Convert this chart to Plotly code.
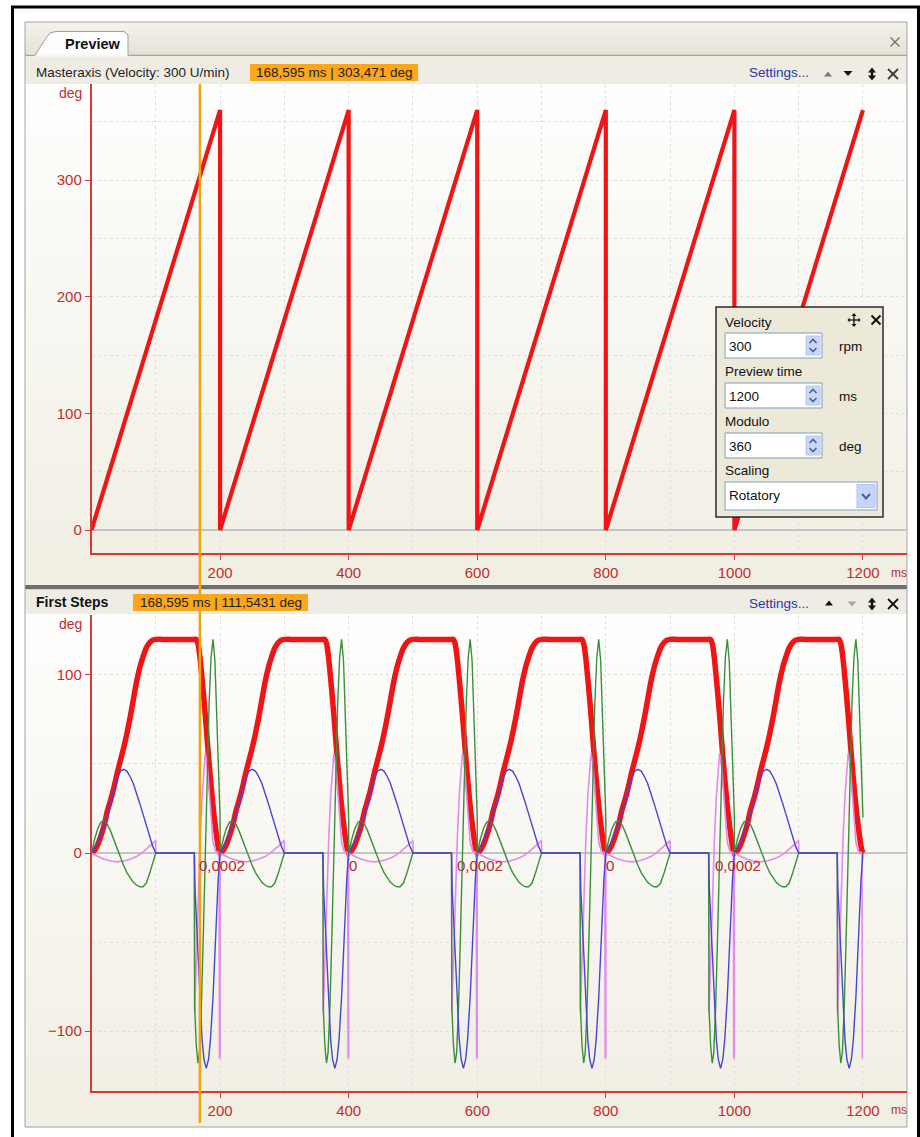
import plotly.graph_objects as go

W, H = 920, 1137
FONT = "Liberation Sans, Arial, sans-serif"

# ------------------------------------------------------------------ data
MASTER_T = [0, 200, 200, 400, 400, 600, 600, 800, 800, 1000, 1000, 1200]
MASTER_DEG = [0, 360, 0, 360, 0, 360, 0, 360, 0, 360, 0, 360]

CYCLE_MS = 200
N_CYCLES = 6

# one cam cycle (ms within cycle)
POS_T = [0, 5, 10, 15, 20, 25, 30, 35, 40, 45, 50, 55, 60, 65, 70, 75, 80, 85, 90, 95, 100,
         110, 120, 130, 140, 150, 160,
         163, 166, 169, 172, 175, 178, 181, 184, 187, 190, 193, 196, 198, 200]
POS_DEG = [0, 1.5, 5, 10, 16, 24, 30, 37, 45, 52, 59, 67, 76, 86, 96, 104, 110, 115, 118, 119.5, 120,
           120, 120, 120, 120, 120, 120,
           120, 117, 109, 98, 86, 73, 59, 46, 34, 23, 14, 6, 2, 0]

VEL_T = [0, 5, 10, 15, 20, 25, 30, 35, 40, 45, 50, 55, 60, 65, 70, 75, 80, 85, 90, 95, 100,
         160, 161, 164, 168, 172, 175, 178.5, 182, 185, 189, 193, 197, 200]
VEL_VAL = [0, 3, 7, 11, 16, 22, 29, 36, 42, 46, 47, 46, 43, 39, 34, 28, 22, 16, 9, 4, 0,
           0, -20, -45, -81, -105, -116, -121, -116, -105, -81, -48, -15, 0]

ACC_T = [0, 5, 10, 15, 20, 25, 30, 35, 40, 45, 50, 55, 60, 65, 70, 75, 80, 85, 90, 95, 100,
         160, 160.5, 163, 165.5, 168, 171, 174, 177, 180, 183, 186, 189, 192, 195, 198, 200]
ACC_VAL = [0, 8, 14, 17.5, 18, 16, 12, 7, 2, -3, -7, -11, -14, -16.5, -18, -19, -19, -17, -12, -6, 0,
           0, -87, -108, -118, -112, -85, -45, 0, 45, 85, 110, 120, 108, 75, 40, 20]

JERK_T = [0, 10, 20, 30, 40, 50, 60, 70, 80, 90, 100, 100,
          160, 160.5, 163, 166, 169, 172, 175, 177, 180, 183, 186, 189, 193, 198.5, 199, 200]
JERK_VAL = [0, -2, -3.5, -4.5, -5, -4.5, -3.5, -2, 0.5, 3.5, 7, 0,
            0, -90, -60, -25, 8, 32, 50, 56, 50, 35, 18, 6, 1, 0, -115, -115]

CURSOR_MS = 168.595
LABEL_T = [164, 397, 565, 797, 967]
LABEL_TEXT = ["0,0002", "0", "0,0002", "0", "0,0002"]

X_TICKS = [200, 400, 600, 800, 1000, 1200]
X_MINOR = [100, 300, 500, 700, 900, 1100]
Y1_TICKS = [0, 100, 200, 300]
Y1_MINOR = [50, 150, 250, 350]
Y2_TICKS = [-100, 0, 100]
Y2_MINOR = [-50, 50]


def tile(ts, vs):
    xs, ys = [], []
    for k in range(N_CYCLES):
        xs += [t + k * CYCLE_MS for t in ts]
        ys += list(vs)
    return xs, ys


# ------------------------------------------------------------------ helpers
def fx(x):
    return x / W


def fy(y):
    return 1 - y / H


def rect(x0, y0, x1, y1, fill, line=None, lw=0, layer="above"):
    return dict(type="rect", xref="paper", yref="paper", x0=fx(x0), x1=fx(x1), y0=fy(y1), y1=fy(y0),
                fillcolor=fill, line=dict(color=line or "rgba(0,0,0,0)", width=lw), layer=layer)


def seg(x0, y0, x1, y1, color, width, layer="above"):
    return dict(type="line", xref="paper", yref="paper", x0=fx(x0), x1=fx(x1), y0=fy(y0), y1=fy(y1),
                line=dict(color=color, width=width), layer=layer)


def path(points, fill=None, line=None, lw=0, close=True, layer="above"):
    d = "M " + " L ".join(f"{fx(x):.5f},{fy(y):.5f}" for x, y in points) + (" Z" if close else "")
    return dict(type="path", xref="paper", yref="paper", path=d,
                fillcolor=fill or "rgba(0,0,0,0)", line=dict(color=line or "rgba(0,0,0,0)", width=lw),
                layer=layer)


def txt(x, y, s, size=13.5, color="#1A1A1A", bold=False, xanchor="left"):
    return dict(x=fx(x), y=fy(y), xref="paper", yref="paper", text=(f"<b>{s}</b>" if bold else s),
                showarrow=False, xanchor=xanchor, yanchor="middle",
                font=dict(size=size, color=color, family=FONT))


def xmark(cx, cy, r, color, w):
    return [seg(cx - r, cy - r, cx + r, cy + r, color, w), seg(cx - r, cy + r, cx + r, cy - r, color, w)]


def tri_up(cx, cy, w, h, color):
    return path([(cx - w / 2, cy + h / 2), (cx, cy - h / 2), (cx + w / 2, cy + h / 2)], fill=color)


def tri_dn(cx, cy, w, h, color):
    return path([(cx - w / 2, cy - h / 2), (cx, cy + h / 2), (cx + w / 2, cy - h / 2)], fill=color)


def dbl_arrow(cx, cy, color):
    return [tri_up(cx, cy - 4, 8, 5, color), tri_dn(cx, cy + 4, 8, 5, color),
            rect(cx - 1.2, cy - 3, cx + 1.2, cy + 3, color)]


def mix(c0, c1, f):
    a = [int(c0[i:i + 2], 16) for i in (1, 3, 5)]
    b = [int(c1[i:i + 2], 16) for i in (1, 3, 5)]
    return "#" + "".join(f"{round(a[i] + (b[i] - a[i]) * f):02X}" for i in range(3))


def gradient(x0, y0, x1, y1, c0, c1, n=30):
    out = []
    h = (y1 - y0) / n
    for i in range(n):
        out.append(rect(x0, y0 + i * h, x1, y0 + (i + 1) * h + 0.6, mix(c0, c1, i / (n - 1)), layer="below"))
    return out


# ------------------------------------------------------------------ figure
fig = go.Figure()

# top: master axis sawtooth
fig.add_trace(go.Scatter(x=MASTER_T, y=MASTER_DEG, mode="lines", xaxis="x", yaxis="y",
                         line=dict(color="#F01414", width=4.2), hoverinfo="skip", showlegend=False))

# bottom: cam profile
px_, py_ = tile(POS_T, POS_DEG)
jx, jy = tile(JERK_T, JERK_VAL)
ax_, ay_ = tile(ACC_T, ACC_VAL)
vx, vy = tile(VEL_T, VEL_VAL)
fig.add_trace(go.Scatter(x=px_, y=py_, mode="lines", xaxis="x2", yaxis="y2",
                         line=dict(color="#F01414", width=5.5, shape="spline", smoothing=0.6),
                         hoverinfo="skip", showlegend=False))
fig.add_trace(go.Scatter(x=jx, y=jy, mode="lines", xaxis="x2", yaxis="y2",
                         line=dict(color="#E48BE8", width=1.6), hoverinfo="skip", showlegend=False))
fig.add_trace(go.Scatter(x=ax_, y=ay_, mode="lines", xaxis="x2", yaxis="y2",
                         line=dict(color="#3A903A", width=1.4), hoverinfo="skip", showlegend=False))
fig.add_trace(go.Scatter(x=vx, y=vy, mode="lines", xaxis="x2", yaxis="y2",
                         line=dict(color="#4646D2", width=1.4), hoverinfo="skip", showlegend=False))

AX = "#D43A3A"
TK = "#BE2E2E"
GRID = "#DEDEDE"

xcommon = dict(range=[0, 1268.5], domain=[fx(91.5), fx(907)], showline=True, linecolor=AX, linewidth=1.5,
               tickmode="array", tickvals=X_TICKS, ticks="outside", ticklen=5, tickcolor=AX, tickwidth=1.2,
               tickfont=dict(size=15, color=TK, family=FONT), showgrid=True, gridcolor=GRID, griddash="dot",
               gridwidth=1, zeroline=False, fixedrange=True,
               minor=dict(tickmode="array", tickvals=X_MINOR, showgrid=True, gridcolor=GRID, griddash="dot",
                          gridwidth=1, ticks=""))


def ycommon(rng, dom, ticks, minor):
    return dict(range=rng, domain=dom, showline=True, linecolor=AX, linewidth=1.5, tickmode="array",
                tickvals=ticks, ticks="outside", ticklen=5, tickcolor=AX, tickwidth=1.2,
                tickfont=dict(size=15, color=TK, family=FONT), showgrid=True, gridcolor=GRID, griddash="dot",
                gridwidth=1, zeroline=True, zerolinecolor="#C4C4C4", zerolinewidth=2, fixedrange=True,
                minor=dict(tickmode="array", tickvals=minor, showgrid=True, gridcolor=GRID, griddash="dot",
                           gridwidth=1, ticks=""))


shapes = []
# black frame
shapes.append(rect(12.5, 7, 918.5, 1160, "rgba(0,0,0,0)", "#000000", 3, layer="below"))
# tab strip
shapes += gradient(25, 22, 907, 55, "#F3F1EA", "#E6E3D6", n=8)
shapes.append(path([(35, 55.5), (44, 41), (50, 33), (56, 31.5), (124, 31.5), (128, 35), (128, 55.5)],
                   fill="#FDFDFD", line="#9A9FA6", lw=1, close=False, layer="below"))
shapes.append(seg(25, 55.5, 35, 55.5, "#A5A59F", 1.5, layer="below"))
shapes.append(seg(128, 55.5, 907, 55.5, "#A5A59F", 1.5, layer="below"))
# header 1
shapes.append(rect(25, 56.5, 907, 84, "#EEECE3", layer="below"))
# plot 1 background
shapes += gradient(25, 84, 907, 585, "#FEFEFD", "#F1EEE3")
# separator
shapes.append(rect(25, 585, 907, 589.5, "#6E6E6E", layer="below"))
# header 2
shapes.append(rect(25, 589.5, 907, 614, "#EEECE3", layer="below"))
# plot 2 background
shapes += gradient(25, 614, 907, 1127, "#FEFEFD", "#F1EEE3")
# panel outline
shapes.append(rect(25, 22, 907, 1127, "rgba(0,0,0,0)", "#A3A3A3", 1, layer="below"))

# orange value labels
shapes.append(rect(250, 64, 418, 81, "#FBA61B", layer="below"))
shapes.append(rect(133, 594, 308, 611, "#FBA61B", layer="below"))

# header icons
shapes += xmark(895, 42, 4.5, "#707070", 1.2)
shapes.append(tri_up(828, 74, 8, 5, "#7A7A7A"))
shapes.append(tri_dn(848, 73.5, 9, 5, "#111111"))
shapes += dbl_arrow(872, 74, "#111111")
shapes += xmark(893, 74, 5, "#3A3A3A", 1.8)

shapes.append(tri_up(829, 603, 8, 5, "#111111"))
shapes.append(tri_dn(852, 604, 9, 5, "#A8A8A8"))
shapes += dbl_arrow(872, 604, "#111111")
shapes += xmark(893, 604, 5, "#111111", 1.8)

# cursor
shapes.append(dict(type="line", xref="x", yref="paper", x0=CURSOR_MS, x1=CURSOR_MS, y0=fy(1123), y1=fy(84),
                   line=dict(color="#F2A20C", width=2.5), layer="above"))

# settings dialog
shapes.append(rect(716, 307, 883, 517, "#ECE9D8", "#2A2A2A", 1.5))
for (yt, yb) in [(333, 358), (383, 408), (433, 458)]:
    shapes.append(rect(725, yt, 822, yb, "#FFFFFF", "#7F9DB9", 1))
    shapes.append(rect(806, yt + 3, 820, yb - 3, "#C8D7FB", "#B4C6EE", 1))
    ym = (yt + yb) / 2
    shapes.append(path([(809.5, ym - 2.5), (813, ym - 6), (816.5, ym - 2.5)], line="#4D6185", lw=1.6, close=False))
    shapes.append(path([(809.5, ym + 2.5), (813, ym + 6), (816.5, ym + 2.5)], line="#4D6185", lw=1.6, close=False))
shapes.append(rect(725, 482, 877, 510, "#FFFFFF", "#7F9DB9", 1))
shapes.append(rect(857, 484.5, 875, 507.5, "#C5D5FC", "#B0C4EE", 1))
shapes.append(path([(862, 494), (866, 498.5), (870, 494)], line="#4D6185", lw=2, close=False))
# move icon
shapes.append(seg(848, 320, 860, 320, "#111111", 1.3))
shapes.append(seg(854, 314, 854, 326, "#111111", 1.3))
shapes.append(tri_up(854, 314.5, 5, 3, "#111111"))
shapes.append(tri_dn(854, 325.5, 5, 3, "#111111"))
shapes.append(path([(847.5, 320), (849.5, 317.5), (849.5, 322.5)], fill="#111111"))
shapes.append(path([(860.5, 320), (858.5, 317.5), (858.5, 322.5)], fill="#111111"))
shapes += xmark(876, 320, 4.5, "#111111", 2)

annotations = [
    txt(93, 43.5, "Preview", size=14.5, color="#111111", bold=True, xanchor="center"),
    txt(34, 72, "Masteraxis (Velocity: 300 U/min)", size=13.5, color="#1E1E1E"),
    txt(334, 72.5, "168,595 ms | 303,471 deg", size=13.5, color="#1E1E1E", xanchor="center"),
    txt(747, 72, "Settings...", size=13.5, color="#2638A8"),
    txt(34, 602, "First Steps", size=14, color="#111111", bold=True),
    txt(220.5, 602.5, "168,595 ms | 111,5431 deg", size=13.5, color="#1E1E1E", xanchor="center"),
    txt(747, 603, "Settings...", size=13.5, color="#2638A8"),
    txt(84, 93, "deg", size=14, color=TK, xanchor="right"),
    txt(84, 624, "deg", size=14, color=TK, xanchor="right"),
    txt(889, 573, "ms", size=12, color=TK),
    txt(889, 1110, "ms", size=12, color=TK),
    # dialog texts
    txt(723, 322, "Velocity", size=13.5, color="#111111"),
    txt(727, 346, "300", size=13.5, color="#111111"),
    txt(837, 346.5, "rpm", size=13.5, color="#111111"),
    txt(723, 371, "Preview time", size=13.5, color="#111111"),
    txt(727, 396, "1200", size=13.5, color="#111111"),
    txt(837, 396, "ms", size=13.5, color="#111111"),
    txt(723, 421, "Modulo", size=13.5, color="#111111"),
    txt(727, 446, "360", size=13.5, color="#111111"),
    txt(837, 446.5, "deg", size=13.5, color="#111111"),
    txt(723, 471, "Scaling", size=13.5, color="#111111"),
    txt(727, 496, "Rotatory", size=13.5, color="#111111"),
]
for t, s in zip(LABEL_T, LABEL_TEXT):
    annotations.append(dict(x=t, y=-7, xref="x2", yref="y2", text=s, showarrow=False, xanchor="left",
                            yanchor="middle", font=dict(size=15, color="#B22A2A", family=FONT)))

fig.update_layout(
    width=W, height=H, autosize=False, margin=dict(l=0, r=0, t=0, b=0),
    paper_bgcolor="#FFFFFF", plot_bgcolor="rgba(0,0,0,0)",
    font=dict(family=FONT),
    xaxis=dict(xcommon, anchor="y"),
    yaxis=ycommon([-19.7, 382.3], [fy(553), fy(84)], Y1_TICKS, Y1_MINOR) | dict(anchor="x"),
    xaxis2=dict(xcommon, anchor="y2"),
    yaxis2=ycommon([-133.7, 133.7], [fy(1091), fy(615)], Y2_TICKS, Y2_MINOR) | dict(anchor="x2"),
    shapes=shapes, annotations=annotations, showlegend=False,
)

fig.write_html("out.html", config=dict(displayModeBar=False))
